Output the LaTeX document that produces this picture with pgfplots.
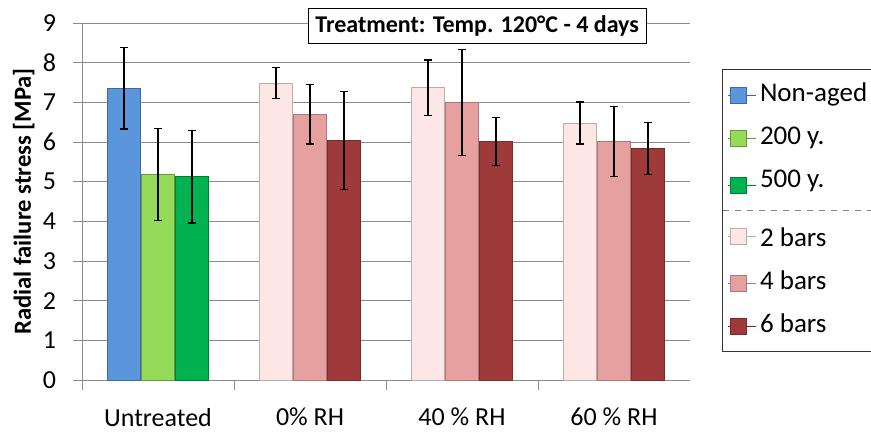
\documentclass[border=0pt]{standalone}
\usepackage{fontspec}
\setmainfont{Carlito}
\usepackage{pgfplots}
\pgfplotsset{compat=1.18}

\definecolor{cNon}{RGB}{91,150,220}
\definecolor{cTwoH}{RGB}{150,218,90}
\definecolor{cFiveH}{RGB}{0,178,80}
\definecolor{cTwoB}{RGB}{252,230,230}
\definecolor{cFourB}{RGB}{230,160,160}
\definecolor{cSixB}{RGB}{158,58,58}
\definecolor{gridc}{RGB}{140,140,140}

\pgfplotsset{
  sq/.style={legend image code/.code={
    \path (0pt,0pt) -- (14pt,0pt);
    \draw[##1] (1.5pt,-4pt) rectangle (9.5pt,4pt);}},
}

\begin{document}
\begin{tikzpicture}
\begin{axis}[
  scale only axis, clip=false,
  width=304pt, height=178.5pt,
  ybar, bar width=16.5pt,
  xmin=-0.5, xmax=3.5, ymin=0, ymax=9,
  ytick={0,...,9},
  xtick={0,1,2,3},
  xticklabels={Untreated, 0\% RH, 40 \% RH, 60 \% RH},
  minor xtick={-0.5,0.5,1.5,2.5},
  axis x line*=bottom, axis y line*=left,
  axis line style={gridc},
  ymajorgrids, grid style={gridc},
  tick align=outside,
  major tick length=4.5pt, minor tick length=5pt,
  major x tick style={draw=none},
  minor x tick style={gridc},
  major y tick style={gridc},
  ticklabel style={font=\fontsize{13}{15}\selectfont},
  /pgf/number format/assume math mode=true,
  xticklabel style={yshift=-6pt},
  yticklabel style={xshift=-5pt},
  ylabel={Radial failure stress [MPa]},
  ylabel style={font=\bfseries\fontsize{12.3}{14}\selectfont, at={(axis description cs:-0.096,0.5)}, anchor=center},
  error bars/y dir=both, error bars/y explicit,
  error bars/error bar style={black, line width=0.6pt},
  error bars/error mark options={rotate=90, mark size=2pt, black, line width=0.6pt},
  legend style={name=leg, at={(1.054,0.871)}, anchor=north west, draw=none, fill=white,
    font=\fontsize{13.5}{15}\selectfont, inner sep=2pt,
    nodes={text height=10pt, text depth=3.5pt, inner ysep=4pt}},
  legend cell align=left,
]
\addplot[sq, fill=cNon, draw=cNon!70!black, bar shift=-17pt] coordinates {
  (0,7.36) +- (0,1.03)
};
\addlegendentry{Non-aged}
\addplot[sq, fill=cTwoH, draw=cTwoH!70!black, bar shift=0pt] coordinates {
  (0,5.19) +- (0,1.16)
};
\addlegendentry{200 y.}
\addplot[sq, fill=cFiveH, draw=cFiveH!70!black, bar shift=17pt] coordinates {
  (0,5.13) +- (0,1.17)
};
\addlegendentry[text depth=7.5pt]{500 y.}
\addplot[sq, fill=cTwoB, draw=cTwoB!75!black, bar shift=-17pt] coordinates {
  (1,7.48) +- (0,0.39)
  (2,7.37) +- (0,0.70)
  (3,6.48) +- (0,0.53)
};
\addlegendentry[text height=14pt]{2 bars}
\addplot[sq, fill=cFourB, draw=cFourB!75!black, bar shift=0pt] coordinates {
  (1,6.70) +- (0,0.75)
  (2,6.99) +- (0,1.34)
  (3,6.01) +- (0,0.88)
};
\addlegendentry{4 bars}
\addplot[sq, fill=cSixB, draw=cSixB!75!black, bar shift=17pt] coordinates {
  (1,6.04) +- (0,1.24)
  (2,6.01) +- (0,0.60)
  (3,5.84) +- (0,0.66)
};
\addlegendentry{6 bars}
\node[draw, fill=white, anchor=north, font=\bfseries\fontsize{12}{14}\selectfont,
  text height=9pt, text depth=2.5pt, inner ysep=3pt, inner xsep=3.5pt]
  at (rel axis cs:0.65,1.042) {Treatment: Temp. 120°C - 4 days};
\end{axis}
\draw[dashed, gray] (leg.west) -- (leg.east);
\draw[black!80] (leg.north east) -- (leg.north west) -- (leg.south west) -- (leg.south east);
\pgfresetboundingbox
\useasboundingbox (-41pt,-26.5pt) rectangle (394.5pt,190pt);
\end{tikzpicture}
\end{document}
